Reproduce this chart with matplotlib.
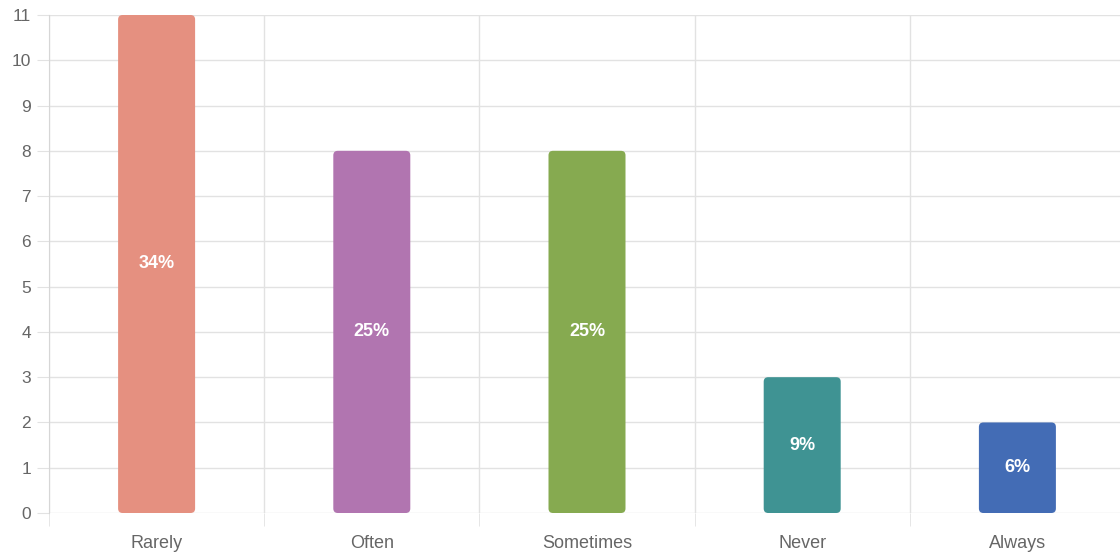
import matplotlib
matplotlib.use("Agg")
import matplotlib.pyplot as plt
from matplotlib.patches import FancyBboxPatch
import numpy as np

categories = ["Rarely", "Often", "Sometimes", "Never", "Always"]
counts = [11, 8, 8, 3, 2]
percent_labels = ["34%", "25%", "25%", "9%", "6%"]
colors = ["#E59080", "#B175B0", "#86AA50", "#3F9393", "#436CB5"]
yticks = list(range(0, 12))

plt.rcParams['font.family'] = ['Liberation Sans', 'DejaVu Sans']

W, H = 1120, 556
fig = plt.figure(figsize=(W/100, H/100), dpi=100)
ax_left, ax_right = 49/W, 1125/W
ax_bottom, ax_top = 1 - 513/H, 1 - 15/H
ax = fig.add_axes([ax_left, ax_bottom, ax_right - ax_left, ax_top - ax_bottom])
ax.set_xlim(-0.5, len(categories) - 0.5)
ax.set_ylim(0, 11)

grid_color = "#e2e2e2"
ax.set_yticks(yticks)
ax.set_xticks(range(len(categories)))
ax.set_xticklabels(categories)
ax.set_xticks(np.arange(-0.5, len(categories) + 0.5, 1), minor=True)
ax.grid(axis='y', which='major', color=grid_color, linewidth=1)
ax.grid(axis='x', which='minor', color=grid_color, linewidth=1)
ax.set_axisbelow(True)
for s in ["top", "right", "bottom"]:
    ax.spines[s].set_visible(False)
ax.spines["left"].set_color("#d6d6d6")
ax.tick_params(axis='y', length=9, color=grid_color, labelcolor="#666666", labelsize=12.5, pad=4)
ax.tick_params(axis='x', which='major', length=0, labelcolor="#666666", labelsize=13, pad=15.5)
ax.tick_params(axis='x', which='minor', length=9, color=grid_color)

# rounding in pixels converted to data units
px_per_x = (1125 - 49) / len(categories)
px_per_y = (513 - 15) / 11
r_px = 4.5
r_x = r_px / px_per_x
aspect = px_per_x / px_per_y

bar_w = 77 / px_per_x
for i, (v, c, lab) in enumerate(zip(counts, colors, percent_labels)):
    p = FancyBboxPatch((i - bar_w/2, 0), bar_w, v,
                       boxstyle=f"round,pad=0,rounding_size={r_x}",
                       mutation_aspect=aspect, facecolor=c, edgecolor="none")
    ax.add_patch(p)
    ax.text(i, v/2, lab, ha='center', va='center', color='white',
            fontsize=13, fontweight='bold')

fig.savefig("out.png", dpi=100)
